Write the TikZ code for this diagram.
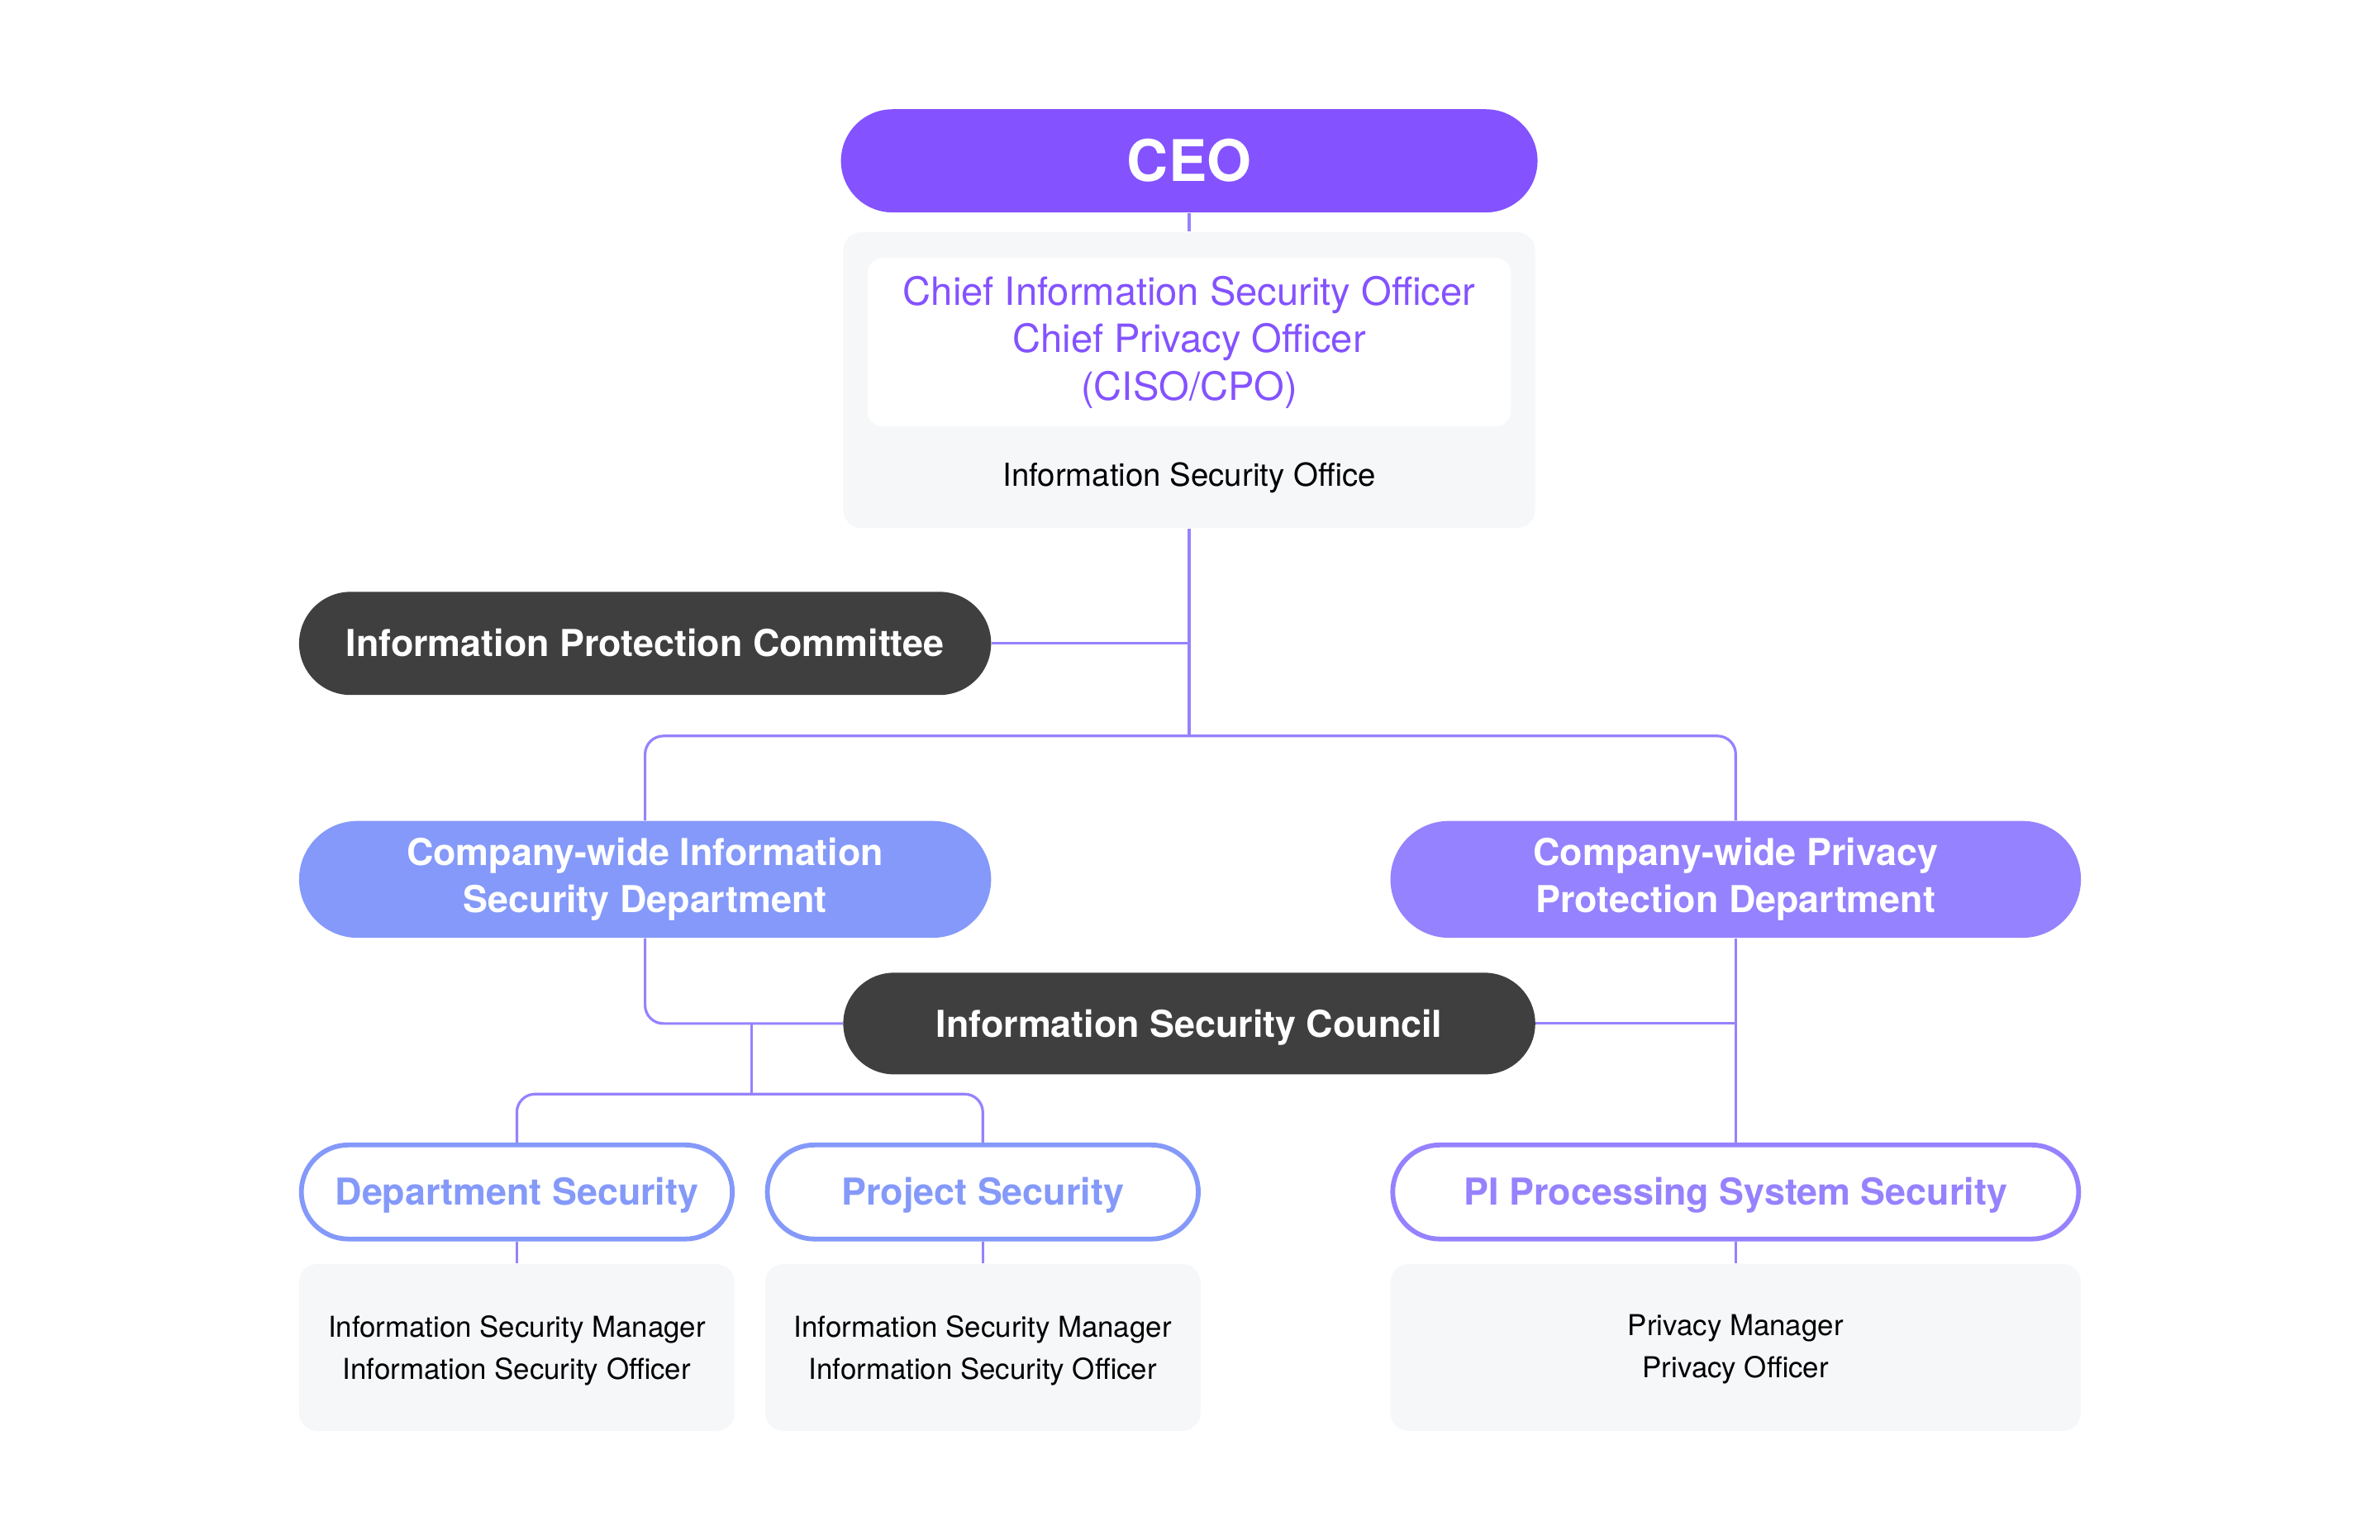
\documentclass[tikz,border=0pt]{standalone}
\usepackage{fontspec}
\setmainfont{TeX Gyre Heros}
\definecolor{ceoc}{HTML}{8452FF}
\definecolor{darkc}{HTML}{3F3F3F}
\definecolor{bluec}{HTML}{8499F9}
\definecolor{purplec}{HTML}{9582FE}
\definecolor{linkc}{HTML}{9582FE}
\definecolor{panelc}{HTML}{F6F7F9}

\begin{document}
\begin{tikzpicture}[x=0.02cm, y=-0.02cm,
		link/.style={draw=linkc, line width=1pt, rounded corners=0.24cm},
		pill/.style={rounded corners=#1, inner sep=0pt, align=center, text=white, font=\bfseries\fontsize{13.9}{17.6}\selectfont},
		outline/.style={draw=#1, text=#1, fill=white, line width=1.8pt, rounded corners=0.62cm, inner sep=0pt, minimum height=1.24cm, text height=10pt, text depth=0pt, font=\bfseries\fontsize{13.9}{17.6}\selectfont},
		panel/.style={fill=panelc, rounded corners=0.24cm, inner sep=0pt},
		staff/.style={align=center, text=black, font=\fontsize{10.8}{15.9}\selectfont}]
		\useasboundingbox (0,0) rectangle (1568,1014.8);
		
		% top
		\node[pill=0.68cm, fill=ceoc, minimum width=9.18cm, minimum height=1.36cm, font=\bfseries\fontsize{21.5}{26}\selectfont] (ceo) at (783.5,106) {CEO};
		\node[panel, minimum width=9.12cm, minimum height=3.9cm] (office) at (783.5,250.5) {};
		\node[fill=white, rounded corners=0.2cm, minimum width=8.48cm, minimum height=2.22cm, text=ceoc, align=center, font=\fontsize{14.6}{17.9}\selectfont] (ciso) at (783.5,225.5) {Chief Information Security Officer\\Chief Privacy Officer\\(CISO/CPO)};
		\node[staff, font=\fontsize{11.9}{15.9}\selectfont, text height=8.6pt, text depth=0pt] (officetxt) at (783.5,313) {Information Security Office};
		
		% committees and departments
		\node[pill=0.68cm, fill=darkc, minimum width=9.12cm, minimum height=1.36cm, text height=10pt, text depth=0pt] (ipc) at (425,424) {Information Protection Committee};
		\node[pill=0.77cm, fill=bluec, minimum width=9.12cm, minimum height=1.54cm] (cisd) at (425,579.5) {Company-wide Information\\Security Department};
		\node[pill=0.77cm, fill=purplec, minimum width=9.1cm, minimum height=1.54cm] (cppd) at (1143.5,579.5) {Company-wide Privacy\\Protection Department};
		\node[pill=0.67cm, fill=darkc, minimum width=9.12cm, minimum height=1.34cm, text height=10pt, text depth=0pt] (isc) at (783.5,674.5) {Information Security Council};
		
		% security units
		\node[outline=bluec, minimum width=5.68cm] (dsec) at (340.5,785.5) {Department Security};
		\node[outline=bluec, minimum width=5.68cm] (psec) at (647.5,785.5) {Project Security};
		\node[outline=purplec, minimum width=9.04cm] (pisec) at (1143.5,785.5) {PI Processing System Security};
		
		\node[panel, minimum width=5.74cm, minimum height=2.2cm] (dstaff) at (340.5,888) {};
		\node[panel, minimum width=5.74cm, minimum height=2.2cm] (pstaff) at (647.5,888) {};
		\node[panel, minimum width=9.1cm, minimum height=2.2cm] (pistaff) at (1143.5,888) {};
		\node[staff] (dstafftxt) at (340.5,890) {Information Security Manager\\Information Security Officer};
		\node[staff] (pstafftxt) at (647.5,890) {Information Security Manager\\Information Security Officer};
		\node[staff] (pistafftxt) at (1143.5,889) {Privacy Manager\\Privacy Officer};
		
		% connectors
		\coordinate (bus) at (783.5,485);
		\coordinate (split) at (495,674.5);
		\coordinate (sub) at (495,721);
		\draw[link] (ceo.south) -- (office.north);
		\draw[link] (office.south) -- (bus);
		\draw[link] (ipc.east) -- (ipc.east -| bus);
		\draw[link] (cisd.north) |- (bus) -| (cppd.north);
		\draw[link] (cisd.south) |- (isc.west);
		\draw[link] (split) -- (sub);
		\draw[link] (dsec.north) |- (sub) -| (psec.north);
		\draw[link] (isc.east) -- (isc.east -| cppd.south);
		\draw[link] (cppd.south) -- (pisec.north);
		\draw[link] (dsec.south) -- (dstaff.north);
		\draw[link] (psec.south) -- (pstaff.north);
		\draw[link] (pisec.south) -- (pistaff.north);
	\end{tikzpicture}
\end{document}
